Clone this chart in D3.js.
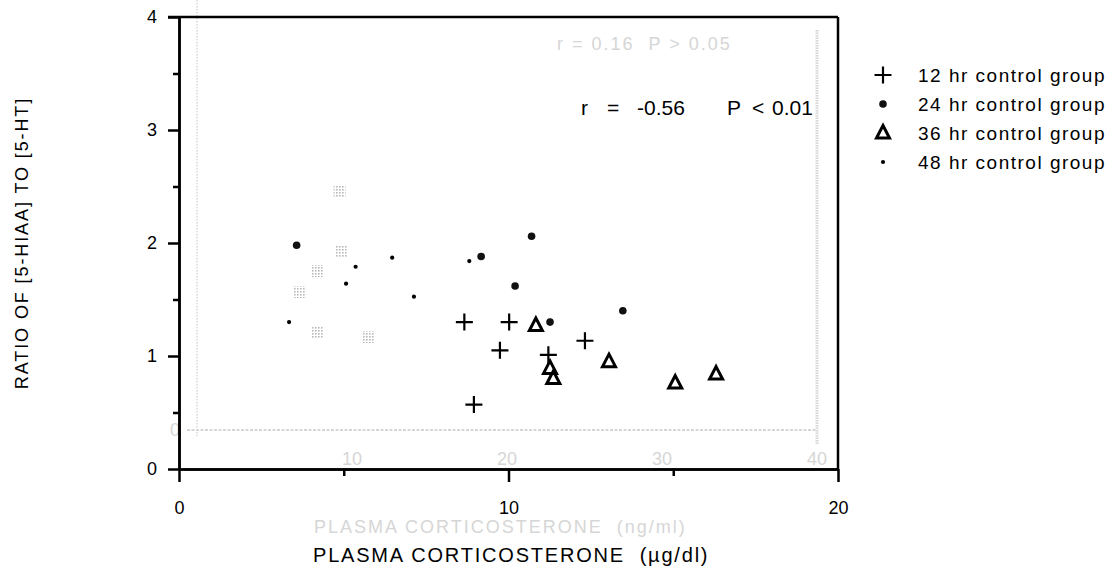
<!DOCTYPE html>
<html>
<head>
<meta charset="utf-8">
<script src="https://cdn.jsdelivr.net/npm/d3@7"></script>
<style>
  html, body { margin: 0; padding: 0; background: #fff; }
  svg { display: block; font-family: "Liberation Sans", Arial, sans-serif; }
</style>
</head>
<body>
<svg id="chart" width="1120" height="580"></svg>
<script>
// Plasma corticosterone (µg/dl) vs ratio of [5-HIAA] to [5-HT], by control group
const groups = ["12 hr control group", "24 hr control group", "36 hr control group", "48 hr control group"];
const group12 = [[8.66, 1.30], [10.02, 1.30], [9.74, 1.05], [8.95, 0.57], [11.21, 1.01], [12.32, 1.135]];
const group24 = [[3.57, 1.98], [10.70, 2.06], [9.17, 1.88], [10.20, 1.62], [13.47, 1.40], [11.26, 1.30]];
const group36 = [[10.83, 1.27], [11.26, 0.89], [11.36, 0.80], [13.05, 0.95], [15.06, 0.76], [16.30, 0.84]];
const group48 = [[3.34, 1.30], [5.07, 1.64], [5.36, 1.79], [6.47, 1.87], [7.13, 1.525], [8.81, 1.84]];
const xMajorTicks = [0, 10, 20];
const xMinorTicks = [5, 15];
const yMajorTicks = [0, 1, 2, 3, 4];
const yMinorTicks = [0.5, 1.5, 2.5, 3.5];
const statText = ["r", "=", "-0.56", "P", "<", "0.01"];

// faint show-through of the figure printed on the reverse side of the sheet
const reverseTicks = [10, 20, 30, 40];
const reversePoints = [[9.2, 2.38], [9.35, 1.78], [7.74, 1.59], [6.65, 1.38], [7.74, 0.98], [11.1, 0.93]];

const svg = d3.select("#chart");
const x = d3.scaleLinear().domain([0, 20]).range([179, 838]);
const y = d3.scaleLinear().domain([0, 4]).range([469, 17]);
const xr = d3.scaleLinear().domain([0, 40]).range([197, 817]);
const yr = d3.scaleLinear().domain([0, 4]).range([430, 30]);

// stipple texture for the show-through marks
const defs = svg.append("defs");
defs.append("pattern").attr("id", "stipple").attr("width", 3).attr("height", 3)
  .attr("patternUnits", "userSpaceOnUse")
  .append("rect").attr("width", 1.6).attr("height", 1.6).attr("fill", "#b8b8b8");

// ---- reverse-side show-through ----
const ghostColor = "#d6d6d6";
const ghost = svg.append("g").attr("class", "reverse").attr("fill", ghostColor).attr("stroke", ghostColor);
ghost.append("line").attr("x1", xr(0)).attr("x2", xr(0)).attr("y1", 0).attr("y2", yr(0) + 6)
  .attr("stroke-width", 1.5).attr("stroke-dasharray", "1.5,1.5");
ghost.append("line").attr("x1", xr(0) - 10).attr("x2", xr(40)).attr("y1", yr(0)).attr("y2", yr(0))
  .attr("stroke-width", 2).attr("stroke-dasharray", "3,1.5");
ghost.append("line").attr("x1", xr(40)).attr("x2", xr(40)).attr("y1", yr(4)).attr("y2", yr(0) + 15)
  .attr("stroke-width", 3).attr("stroke-dasharray", "1.5,1");
ghost.selectAll("rect.rp").data(reversePoints).join("rect").attr("class", "rp")
  .attr("x", d => xr(d[0]) - 6).attr("y", d => yr(d[1]) - 6).attr("width", 12).attr("height", 12)
  .attr("stroke", "none").attr("fill", "url(#stipple)");
ghost.selectAll("text.rt").data(reverseTicks).join("text").attr("class", "rt")
  .attr("x", d => xr(d)).attr("y", yr(0) + 35).attr("text-anchor", "middle")
  .attr("stroke", "none").attr("font-size", 18).text(d => d);
ghost.append("text").attr("x", xr(0) - 27).attr("y", yr(0) + 6).attr("stroke", "none")
  .attr("font-size", 18).text("0");
ghost.append("text").attr("x", 557).attr("y", 50).attr("stroke", "none")
  .attr("font-size", 18).attr("letter-spacing", 2).attr("xml:space", "preserve").text("r = 0.16  P > 0.05");
ghost.append("text").attr("x", 314).attr("y", 533).attr("stroke", "none")
  .attr("font-size", 18).attr("letter-spacing", 2).attr("xml:space", "preserve").text("PLASMA CORTICOSTERONE  (ng/ml)");

// ---- axes ----
const axisStroke = 2.5;
function styleAxis(g) {
  g.selectAll("path.domain").attr("stroke", "#000").attr("stroke-width", axisStroke);
  g.selectAll(".tick line").attr("stroke", "#000").attr("stroke-width", axisStroke);
  g.selectAll(".tick text").attr("fill", "#000").attr("font-size", 18)
    .attr("font-family", "'Liberation Sans', Arial, sans-serif");
}

svg.append("g").attr("transform", `translate(${x(0)},0)`)
  .call(d3.axisLeft(y).tickValues(yMinorTicks).tickSize(6).tickSizeOuter(0).tickFormat(""))
  .call(styleAxis);
svg.append("g").attr("transform", `translate(${x(0)},0)`)
  .call(d3.axisLeft(y).tickValues(yMajorTicks).tickSize(11).tickPadding(11).tickSizeOuter(0).tickFormat(d3.format("d")))
  .call(styleAxis);
svg.append("g").attr("transform", `translate(0,${y(0)})`)
  .call(d3.axisBottom(x).tickValues(xMinorTicks).tickSize(7).tickSizeOuter(0).tickFormat(""))
  .call(styleAxis);
svg.append("g").attr("transform", `translate(0,${y(0)})`)
  .call(d3.axisBottom(x).tickValues(xMajorTicks).tickSize(13).tickPadding(19).tickSizeOuter(0).tickFormat(d3.format("d")))
  .call(styleAxis);

// top and right frame edges
svg.append("line").attr("x1", x(0) - 11).attr("x2", x(20)).attr("y1", y(4)).attr("y2", y(4))
  .attr("stroke", "#000").attr("stroke-width", axisStroke);
svg.append("line").attr("x1", x(20)).attr("x2", x(20)).attr("y1", y(4)).attr("y2", y(0))
  .attr("stroke", "#000").attr("stroke-width", axisStroke);

// ---- axis titles ----
svg.append("text").attr("x", 313).attr("y", 562).attr("font-size", 20).attr("letter-spacing", 1.8)
  .attr("xml:space", "preserve").text("PLASMA CORTICOSTERONE  (µg/dl)");
svg.append("text").attr("transform", "translate(28,243) rotate(-90)").attr("text-anchor", "middle")
  .attr("font-size", 18).attr("letter-spacing", 1.9).text("RATIO OF [5-HIAA] TO [5-HT]");

// ---- markers ----
const markers = {
  plus: g => g.append("path").attr("d", "M-8.5,0H8.5M0,-8.5V8.5").attr("fill", "none").attr("stroke", "#000").attr("stroke-width", 2.2),
  dot: g => g.append("circle").attr("r", 3.8).attr("fill", "#111"),
  tri: g => g.append("path").attr("d", "M0,-7.5L6.5,5L-6.5,5Z").attr("fill", "none").attr("stroke", "#000")
    .attr("stroke-width", 3).attr("stroke-linejoin", "miter"),
  small: g => g.append("circle").attr("r", 2.1).attr("fill", "#000")
};
const series = [
  { name: groups[0], data: group12, mark: "plus" },
  { name: groups[1], data: group24, mark: "dot" },
  { name: groups[2], data: group36, mark: "tri" },
  { name: groups[3], data: group48, mark: "small" }
];

const plot = svg.append("g").attr("class", "points");
series.forEach(s => {
  plot.selectAll(null).data(s.data).join("g")
    .attr("transform", d => `translate(${x(d[0])},${y(d[1])})`)
    .each(function () { markers[s.mark](d3.select(this)); });
});

// ---- correlation statement ----
const statX = [581, 607, 637, 727, 752, 772];
const stat = svg.append("text").attr("y", 115).attr("font-size", 21);
statText.forEach((t, i) => stat.append("tspan").attr("x", statX[i]).text(t));

// ---- legend ----
const legend = svg.append("g").attr("class", "legend");
series.forEach((s, i) => {
  const row = legend.append("g").attr("transform", `translate(883,${75 + i * 29})`);
  markers[s.mark](row);
  row.append("text").attr("x", 35).attr("dy", "0.36em").attr("font-size", 19)
    .attr("letter-spacing", 1.5).text(s.name);
});
</script>
</body>
</html>
